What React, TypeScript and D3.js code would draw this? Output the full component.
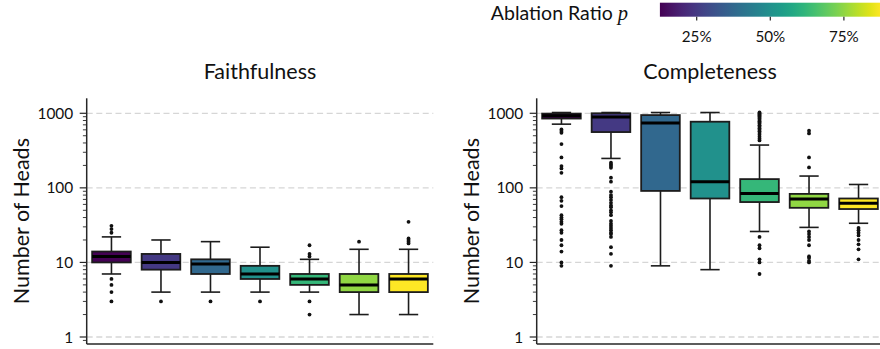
import React from "react";
import * as d3 from "d3";

// Ablation ratios (one box per ratio) and colorbar ticks
const ratios = [0.125, 0.25, 0.375, 0.5, 0.625, 0.75, 0.875];
const colorTicks = [0.25, 0.5, 0.75];
const yTicks = [1, 10, 100, 1000];

// Faithfulness: box-plot summaries (whisker low, Q1, median, Q3, whisker high) and outliers
const faithLow = [7, 4, 4, 4, 4, 2, 2];
const faithQ1 = [10, 8, 7, 6, 5, 4, 4];
const faithMedian = [12, 10, 9.5, 7, 6, 5, 6];
const faithQ3 = [14, 13, 11, 9, 7, 7, 7];
const faithHigh = [22, 20, 19, 16, 11, 15, 15];
const faithFliers = [
  [31, 28, 25, 6, 5, 4, 3],
  [3],
  [3],
  [3],
  [17, 13, 12, 3, 2],
  [19],
  [35, 21, 20, 19, 18],
];

// Completeness: box-plot summaries and outliers
const compLow = [715, 248, 9, 8, 26, 29.5, 33.5];
const compQ1 = [850, 560, 91, 72, 64.5, 54, 52];
const compMedian = [925, 889, 739, 121, 84, 71, 62];
const compQ3 = [990, 1000, 946, 771, 131, 83, 72];
const compHigh = [1024, 1024, 1024, 1024, 375, 144, 111];
const compFliers = [
  [608, 577, 548, 386, 256, 196, 182, 159, 75, 67, 57, 43, 40, 38, 35, 33, 27, 25, 20, 17, 14, 10, 9],
  [217, 206, 196, 186, 137, 121, 89, 80, 75, 69, 63, 58, 55, 50, 47, 43, 36, 33, 31, 29, 27, 25, 24, 22, 16, 13, 9],
  [],
  [],
  [1024, 995, 965, 935, 905, 872, 845, 812, 785, 752, 724, 690, 662, 630, 601, 574, 542, 515, 483, 457, 432, 22, 17, 15.5, 11, 10, 7],
  [583, 537, 256, 188, 26, 24, 22, 20, 17, 12, 11.5, 10.5, 10],
  [29, 27, 25, 23, 20, 17.5, 15, 11],
];

const W = 880;
const H = 349;
const FONT = "Lato, 'DejaVu Sans', sans-serif";
const Y_TOP = 98.3;
const Y_BOTTOM = 344;
const PANEL_W = 346.6;

const yScale = d3
  .scaleLog()
  .domain([Math.pow(10, -0.0939), Math.pow(10, 3.201)])
  .range([Y_BOTTOM, Y_TOP]);

const colorNorm = d3.scaleLinear().domain([ratios[0], ratios[ratios.length - 1]]).range([0, 1]);
const colorOf = (p: number) => d3.interpolateViridis(colorNorm(p));

// minor log ticks inside the domain
const minorTicks: number[] = [];
for (let e = -1; e <= 3; e++) {
  for (let m = 2; m <= 9; m++) {
    const v = m * Math.pow(10, e);
    const [lo, hi] = yScale.domain();
    if (v >= lo && v <= hi) minorTicks.push(v);
  }
}

type PanelProps = {
  x0: number;
  title: string;
  low: number[];
  q1: number[];
  median: number[];
  q3: number[];
  high: number[];
  fliers: number[][];
};

function Panel({ x0, title, low, q1, median, q3, high, fliers }: PanelProps) {
  const x = d3
    .scaleBand<number>()
    .domain(ratios.map((_, i) => i))
    .range([x0, x0 + PANEL_W])
    .paddingInner(0.22)
    .paddingOuter(0.11);
  const bw = x.bandwidth();
  const edge = "#1c1c1c";
  return (
    <g>
      {/* dashed grid at decades */}
      {yTicks.map((t) => (
        <line
          key={"g" + t}
          x1={x0}
          x2={x0 + PANEL_W}
          y1={yScale(t)}
          y2={yScale(t)}
          stroke="#d6d6d6"
          strokeWidth={1.3}
          strokeDasharray="6,3.6"
        />
      ))}
      {ratios.map((p, i) => {
        const left = x(i)!;
        const cx = left + bw / 2;
        const capHalf = bw / 4;
        return (
          <g key={"b" + i}>
            <line x1={cx} x2={cx} y1={yScale(q3[i])} y2={yScale(high[i])} stroke={edge} strokeWidth={1.6} />
            <line x1={cx} x2={cx} y1={yScale(q1[i])} y2={yScale(low[i])} stroke={edge} strokeWidth={1.6} />
            <line x1={cx - capHalf} x2={cx + capHalf} y1={yScale(high[i])} y2={yScale(high[i])} stroke={edge} strokeWidth={1.6} />
            <line x1={cx - capHalf} x2={cx + capHalf} y1={yScale(low[i])} y2={yScale(low[i])} stroke={edge} strokeWidth={1.6} />
            <rect
              x={left}
              y={yScale(q3[i])}
              width={bw}
              height={yScale(q1[i]) - yScale(q3[i])}
              fill={colorOf(p)}
              stroke={edge}
              strokeWidth={1.8}
            />
            <line x1={left} x2={left + bw} y1={yScale(median[i])} y2={yScale(median[i])} stroke="#000" strokeWidth={3} />
            {fliers[i].map((v, j) => (
              <circle key={j} cx={cx} cy={yScale(v)} r={1.9} fill="#111" />
            ))}
          </g>
        );
      })}
      {/* spines */}
      <line x1={x0} x2={x0} y1={Y_TOP} y2={Y_BOTTOM} stroke="#262626" strokeWidth={1.5} />
      <line x1={x0} x2={x0 + PANEL_W} y1={Y_BOTTOM} y2={Y_BOTTOM} stroke="#262626" strokeWidth={1.5} />
      {/* y ticks */}
      {yTicks.map((t) => (
        <g key={"t" + t}>
          <line x1={x0 - 7} x2={x0} y1={yScale(t)} y2={yScale(t)} stroke="#262626" strokeWidth={1.2} />
          <text
            x={x0 - 13.5}
            y={yScale(t)}
            dy="0.36em"
            textAnchor="end"
            fontFamily={FONT}
            fontSize={15.4}
            fill="#111"
          >
            {t}
          </text>
        </g>
      ))}
      {minorTicks.map((t) => (
        <line key={"m" + t} x1={x0 - 3.8} x2={x0} y1={yScale(t)} y2={yScale(t)} stroke="#262626" strokeWidth={0.9} />
      ))}
      <text
        transform={`translate(${x0 - 65},${(Y_TOP + Y_BOTTOM) / 2}) rotate(-90)`}
        textAnchor="middle"
        dy="0.35em"
        fontFamily={FONT}
        fontSize={21.5}
        fill="#111"
      >
        Number of Heads
      </text>
      <text x={x0 + PANEL_W / 2} y={79} textAnchor="middle" fontFamily={FONT} fontSize={21.5} fill="#111">
        {title}
      </text>
    </g>
  );
}

function ColorBar() {
  const cx = d3.scaleLinear().domain([0.25, 0.75]).range([696.7, 843.9]);
  const lo = ratios[0];
  const hi = ratios[ratios.length - 1];
  const stops = d3.range(0, 1.0001, 0.05);
  return (
    <g>
      <defs>
        <linearGradient id="viridisBar" x1="0" x2="1" y1="0" y2="0">
          {stops.map((s) => (
            <stop key={s} offset={s} stopColor={d3.interpolateViridis(s)} />
          ))}
        </linearGradient>
      </defs>
      <rect x={cx(lo)} y={2.7} width={cx(hi) - cx(lo)} height={14} fill="url(#viridisBar)" />
      {colorTicks.map((t) => (
        <g key={t}>
          <line x1={cx(t)} x2={cx(t)} y1={16.7} y2={20.5} stroke="#262626" strokeWidth={1.2} />
          <text x={cx(t)} y={41.5} textAnchor="middle" fontFamily={FONT} fontSize={15.2} fill="#111">
            {d3.format(".0%")(t)}
          </text>
        </g>
      ))}
      <text x={628} y={19.6} textAnchor="end" fontFamily={FONT} fontSize={19.5} fill="#111">
        Ablation Ratio{" "}
        <tspan fontFamily="'Liberation Serif', serif" fontStyle="italic" fontSize={20.5}>
          p
        </tspan>
      </text>
    </g>
  );
}

export default function App() {
  return (
    <svg
      width={W}
      height={H}
      viewBox={`0 0 ${W} ${H}`}
      style={{ position: "absolute", left: 0, top: 0, display: "block", background: "#fff" }}
    >
      <rect width={W} height={H} fill="#fff" />
      <Panel
        x0={86.7}
        title="Faithfulness"
        low={faithLow}
        q1={faithQ1}
        median={faithMedian}
        q3={faithQ3}
        high={faithHigh}
        fliers={faithFliers}
      />
      <Panel
        x0={536.7}
        title="Completeness"
        low={compLow}
        q1={compQ1}
        median={compMedian}
        q3={compQ3}
        high={compHigh}
        fliers={compFliers}
      />
      <ColorBar />
    </svg>
  );
}
